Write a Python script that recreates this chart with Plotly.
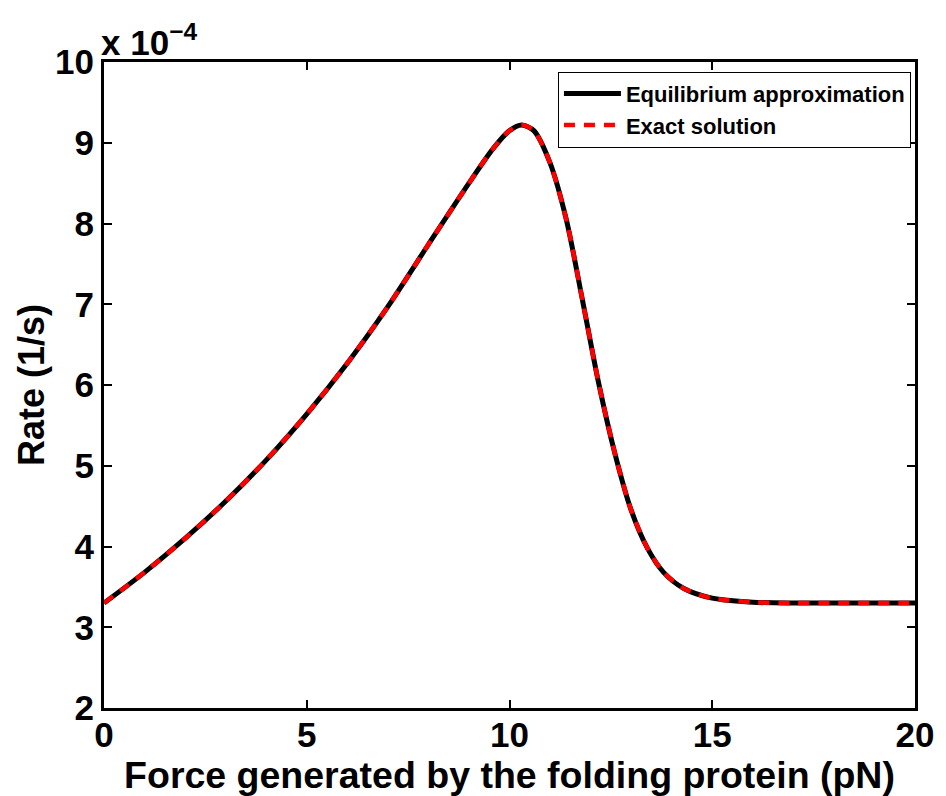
import plotly.graph_objects as go

# Force (pN)
force = [0, 1, 2, 3, 4, 5, 6, 7, 8, 9, 9.6, 10.0, 10.3, 10.6, 11.0, 11.4, 11.8,
         12.2, 12.6, 13.0, 13.4, 13.8, 14.3, 15.0, 16.0, 17.0, 18.0, 20.0]
# Rate (units of 1e-4 1/s)
rate_equilibrium = [3.30, 3.68, 4.10, 4.56, 5.07, 5.64, 6.27, 6.97, 7.74, 8.50, 8.93,
                    9.15, 9.22, 9.15, 8.75, 8.05, 7.05, 6.02, 5.15, 4.45, 3.98, 3.68,
                    3.48, 3.36, 3.31, 3.30, 3.30, 3.30]
rate_exact = list(rate_equilibrium)

x_ticks = [0, 5, 10, 15, 20]
y_ticks = [2, 3, 4, 5, 6, 7, 8, 9, 10]

FONT = "Liberation Sans"

fig = go.Figure()
fig.add_trace(go.Scatter(x=force, y=rate_equilibrium, mode="lines",
                         name="<b>Equilibrium approximation</b>",
                         line=dict(color="black", width=5, shape="spline", smoothing=0.8)))
fig.add_trace(go.Scatter(x=force, y=rate_exact, mode="lines",
                         name="<b>Exact solution</b>",
                         line=dict(color="#ff0000", width=4.5, dash="11px,9px",
                                   shape="spline", smoothing=0.8)))

axis_common = dict(showline=True, linecolor="black", linewidth=3, mirror="ticks",
                   ticks="inside", ticklen=8, tickwidth=2, tickcolor="black",
                   showgrid=False, zeroline=False,
                   tickfont=dict(family=FONT, size=35, color="black"))

fig.update_xaxes(range=[0, 20], tickvals=x_ticks,
                 ticktext=[f"<b>{v}</b>" for v in x_ticks],
                 ticklabelstandoff=-6,
                 title=dict(text="<b>Force generated by the folding protein (pN)</b>",
                            font=dict(family=FONT, size=37.5, color="black"), standoff=0),
                 **axis_common)
fig.update_yaxes(range=[2, 10], tickvals=y_ticks,
                 ticktext=[f"<b>{v}</b>" for v in y_ticks],
                 title=dict(text="<b>Rate (1/s)</b>",
                            font=dict(family=FONT, size=36, color="black"), standoff=0),
                 **axis_common)

fig.add_annotation(text="<b>x 10<sup>−4</sup></b>", xref="paper", yref="paper",
                   x=0.0, y=1.0, xanchor="left", yanchor="bottom", showarrow=False,
                   font=dict(family=FONT, size=35, color="black"), yshift=-2, xshift=-5)

fig.update_layout(
    width=946, height=796,
    margin=dict(l=104, r=26, t=62, b=88),
    paper_bgcolor="white", plot_bgcolor="white",
    legend=dict(x=0.995, y=0.985, xanchor="right", yanchor="top",
                bgcolor="white", bordercolor="black", borderwidth=1,
                font=dict(family=FONT, size=22, color="black"),
                itemwidth=57, tracegroupgap=0),
)

fig.write_html("out.html")
